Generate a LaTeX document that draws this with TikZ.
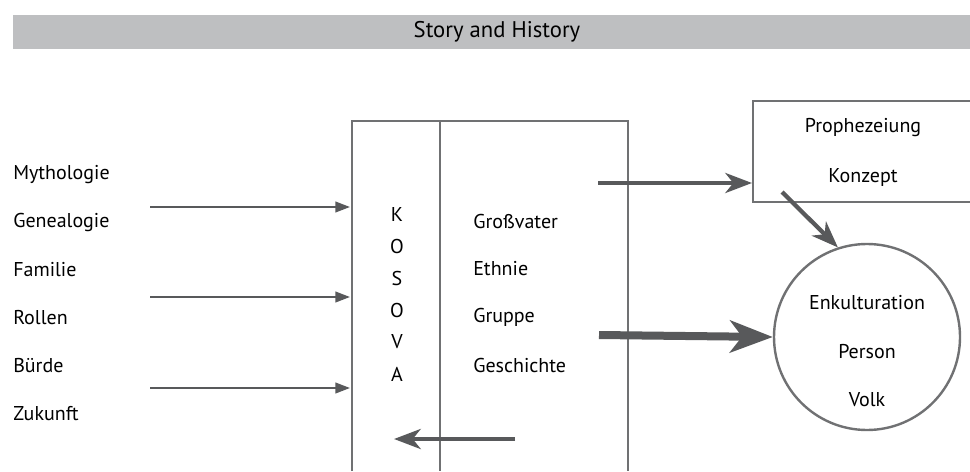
\documentclass[tikz,border=0pt]{standalone}
\usepackage{fontspec}
\setmainfont{PT Sans}
\usetikzlibrary{arrows.meta}
\definecolor{barcolor}{RGB}{190,191,193}
\definecolor{framecolor}{RGB}{112,113,115}
\definecolor{arrowcolor}{RGB}{88,89,91}

\begin{document}
\begin{tikzpicture}[line cap=butt,line join=miter,x=0.75pt,y=-0.75pt,
    every node/.style={font=\fontsize{15}{18}\selectfont,inner sep=0pt},
    thinarrow/.style={color=arrowcolor,line width=1.5pt,-{Triangle[length=11pt,width=8pt]}},
    midarrow/.style={color=arrowcolor,line width=3.2pt,-{Stealth[length=20pt,width=15pt,inset=6pt]}},
    bigarrow/.style={color=arrowcolor,line width=6pt,-{Stealth[length=32pt,width=24pt,inset=9pt]}}]
    \useasboundingbox (0,0) rectangle (970,471);
    % title bar
    \fill[color=barcolor] (13,15) rectangle (970,49);
    \node (title) at (497,32) {\fontsize{17}{20}\selectfont Story and History};
    % left column
    \node[anchor=west] (myth) at (13,175) {Mythologie};
    \node[anchor=west] (gene) at (13,222) {Genealogie};
    \node[anchor=west] (fam) at (13,270) {Familie};
    \node[anchor=west] (rol) at (13,318) {Rollen};
    \node[anchor=west] (buerde) at (13,366) {Bürde};
    \node[anchor=west] (zuk) at (13,414) {Zukunft};
    % frame, open at the bottom
    \draw[color=framecolor,line width=1.8pt] (352,471) -- (352,121) -- (628,121) -- (628,471);
    \draw[color=framecolor,line width=1.8pt] (440,121) -- (440,471);
    \coordinate (frameL1) at (350,207);
    \coordinate (frameL2) at (350,297);
    \coordinate (frameL3) at (350,388);
    \foreach \n/\y in {1/207,2/297,3/388}
    \draw[thinarrow] (150,\y) -- (frameL\n);
    % KOSOVA
    \foreach \c [count=\i] in {K,O,S,O,V,A}
    \node (kos\i) at (397,182+32*\i) {\c};
    % middle column
    \node[anchor=west] (grossv) at (473,221) {Großvater};
    \node[anchor=west] (ethn) at (473,269) {Ethnie};
    \node[anchor=west] (grp) at (473,317) {Gruppe};
    \node[anchor=west] (gesch) at (473,365) {Geschichte};
    \coordinate (backS) at (515,439);
    \coordinate (backE) at (394,439);
    \draw[midarrow] (backS) -- (backE);
    % right box, open to the right
    \draw[color=framecolor,line width=1.8pt] (970,101) -- (753,101) -- (753,202) -- (970,202);
    \coordinate (boxW) at (752,183);
    \node (proph) at (863,128) {Prophezeiung};
    \node (konz) at (863,177) {Konzept};
    % circle
    \node[circle,draw=framecolor,line width=1.8pt,minimum size=186*0.75pt] (enk) at (867,337) {};
    \node (enkt) at (867,303) {Enkulturation};
    \node (pers) at (867,352) {Person};
    \node (volk) at (867,400) {Volk};
    % arrows to the right
    \coordinate (topS) at (598,183);
    \coordinate (diagS) at (782,192);
    \coordinate (bigS) at (599,335);
    \draw[midarrow] (topS) -- (boxW);
    \draw[midarrow] (diagS) -- (enk.108);
    \draw[bigarrow] (bigS) -- (enk.west);
\end{tikzpicture}
\end{document}
